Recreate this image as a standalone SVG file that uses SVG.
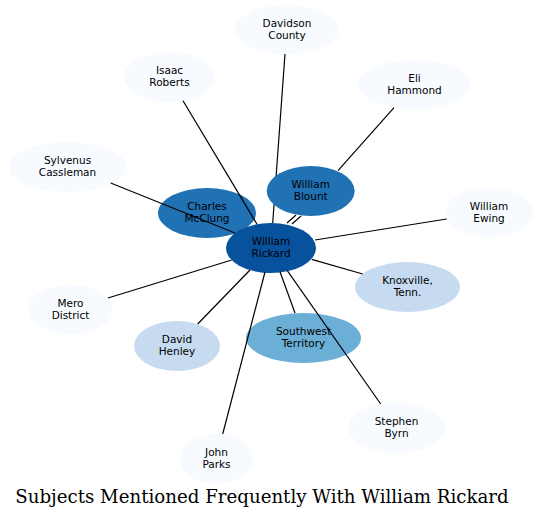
<svg xmlns="http://www.w3.org/2000/svg" width="541" height="520" viewBox="0 0 541 520">
<style>
.n text{font-family:"DejaVu Sans",sans-serif;font-size:10.5px;text-anchor:middle;fill:#000}
.c0{fill:#f7fbff}
.c1{fill:#c6dbef}
.c2{fill:#6baed6}
.c3{fill:#2171b5}
.c4{fill:#08519c}
#edges line{stroke:#000;stroke-width:1.2;fill:none}
.title{font-family:"DejaVu Serif",serif;font-size:18.2px;text-anchor:middle;fill:#000}
</style>
<rect width="541" height="520" fill="#fff"/>
<g id="node-davidson" class="n"><ellipse class="c0" cx="287" cy="29.5" rx="52" ry="24.5"/><text x="287" y="26.5">Davidson</text><text x="287" y="38.5">County</text></g>
<g id="node-isaac" class="n"><ellipse class="c0" cx="169.5" cy="77" rx="45.5" ry="25"/><text x="169.5" y="74">Isaac</text><text x="169.5" y="86">Roberts</text></g>
<g id="node-eli" class="n"><ellipse class="c0" cx="414.5" cy="84.5" rx="56.5" ry="24.5"/><text x="414.5" y="81.5">Eli</text><text x="414.5" y="93.5">Hammond</text></g>
<g id="node-sylvenus" class="n"><ellipse class="c0" cx="67.5" cy="167" rx="58.5" ry="25"/><text x="67.5" y="164">Sylvenus</text><text x="67.5" y="176">Cassleman</text></g>
<g id="node-charles" class="n"><ellipse class="c3" cx="207" cy="213" rx="49" ry="25"/><text x="207" y="210">Charles</text><text x="207" y="222">McClung</text></g>
<g id="node-ewing" class="n"><ellipse class="c0" cx="489" cy="212.5" rx="44" ry="24.5"/><text x="489" y="209.5">William</text><text x="489" y="221.5">Ewing</text></g>
<g id="node-rickard" class="n"><ellipse class="c4" cx="271" cy="248" rx="45" ry="25"/><text x="271" y="244.5">William</text><text x="271" y="256.5">Rickard</text></g>
<g id="node-knoxville" class="n"><ellipse class="c1" cx="407.5" cy="287" rx="52.5" ry="25"/><text x="407.5" y="284">Knoxville,</text><text x="407.5" y="296">Tenn.</text></g>
<g id="node-mero" class="n"><ellipse class="c0" cx="70.5" cy="309.5" rx="42.5" ry="24.5"/><text x="70.5" y="306.5">Mero</text><text x="70.5" y="318.5">District</text></g>
<g id="node-southwest" class="n"><ellipse class="c2" cx="303.5" cy="338" rx="57.5" ry="25"/><text x="303.5" y="335">Southwest</text><text x="303.5" y="347">Territory</text></g>
<g id="node-henley" class="n"><ellipse class="c1" cx="177" cy="346" rx="43" ry="25"/><text x="177" y="343">David</text><text x="177" y="355">Henley</text></g>
<g id="node-byrn" class="n"><ellipse class="c0" cx="396.5" cy="428" rx="48.5" ry="25"/><text x="396.5" y="425">Stephen</text><text x="396.5" y="437">Byrn</text></g>
<g id="node-parks" class="n"><ellipse class="c0" cx="216.5" cy="459" rx="36.5" ry="25"/><text x="216.5" y="456">John</text><text x="216.5" y="468">Parks</text></g>
<g id="edges">
<line x1="285" y1="54" x2="272.7" y2="223"/>
<line x1="183" y1="100.7" x2="257" y2="224.2"/>
<line x1="110.7" y1="183" x2="235" y2="233"/>
<line x1="394" y1="107.7" x2="338" y2="170.7"/>
<line x1="287" y1="223" x2="296" y2="215"/>
<line x1="292" y1="224" x2="301" y2="216"/>
<line x1="446.7" y1="219" x2="315" y2="240"/>
<line x1="362.7" y1="274" x2="311.7" y2="259.3"/>
<line x1="295" y1="313" x2="280" y2="271.7"/>
<line x1="380.7" y1="404" x2="287.3" y2="270.7"/>
<line x1="222.7" y1="434" x2="265" y2="272"/>
<line x1="197.7" y1="324" x2="250" y2="270"/>
<line x1="108" y1="298" x2="231.7" y2="260"/>
</g>
<g id="node-blount" class="n"><ellipse class="c3" cx="310.7" cy="191" rx="44" ry="25"/><text x="310.7" y="188">William</text><text x="310.7" y="200">Blount</text></g>
<text class="title" x="262" y="503">Subjects Mentioned Frequently With William Rickard</text>
</svg>
